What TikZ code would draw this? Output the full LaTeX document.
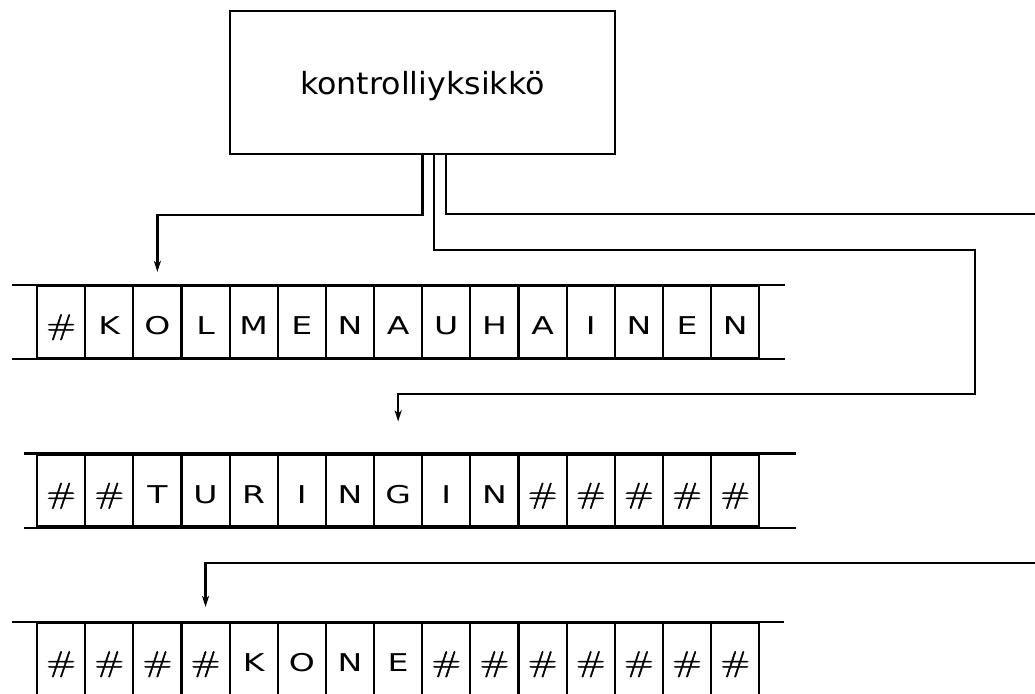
\documentclass[tikz,border=0pt]{standalone}
\usepackage{fontspec}
\setmainfont{DejaVu Sans}
\newfontfamily\tapefont[FakeStretch=1.35]{DejaVu Sans}
\newfontfamily\hashfont[FakeStretch=1.3,FakeBold=1.6]{Latin Modern Roman}
\newfontfamily\boxfont[FakeStretch=1.04]{DejaVu Sans}
\newcommand{\hs}{{\hashfont\fontsize{29}{32}\selectfont\#}}
\usetikzlibrary{arrows.meta}
\begin{document}
\begin{tikzpicture}[x=1pt,y=-1pt,
  ln/.style={line width=2.2pt, line join=miter},
  cell/.style={ln, draw, minimum width=48.15pt, minimum height=72pt, inner sep=0pt,
    text height=25pt, text depth=0pt, font=\tapefont\fontsize{24.5}{28}\selectfont},
  ctrl/.style={ln, draw, minimum width=385pt, minimum height=143pt, inner sep=0pt,
    text height=30pt, text depth=6.4pt, font=\boxfont\fontsize{30.5}{36}\selectfont},
  arr/.style={ln, -{Stealth[length=11pt,width=7pt,inset=3pt]}}]
\useasboundingbox (0,0) rectangle (1035,693);
\clip (0,0) rectangle (1035,693);

\node[ctrl] (box) at (422.5,82.5) {kontrolliyksikkö};

% tape 1
\foreach \l [count=\i] in {\hs,K,O,L,M,E,N,A,U,H,A,I,N,E,N}
  \node[cell] (t1c\i) at ({61.1+48.15*(\i-1)},322) {\l};
\draw[ln] ([xshift=-24pt]t1c1.north west) -- ([xshift=25pt]t1c15.north east);
\draw[ln] ([xshift=-24pt]t1c1.south west) -- ([xshift=25pt]t1c15.south east);

% tape 2
\foreach \l [count=\i] in {\hs,\hs,T,U,R,I,N,G,I,N,\hs,\hs,\hs,\hs,\hs}
  \node[cell] (t2c\i) at ({61.1+48.15*(\i-1)},490.5) {\l};
\draw[ln] ([xshift=-12pt]t2c1.north west) -- ([xshift=36pt]t2c15.north east);
\draw[ln] ([xshift=-12pt]t2c1.south west) -- ([xshift=36pt]t2c15.south east);

% tape 3
\foreach \l [count=\i] in {\hs,\hs,\hs,\hs,K,O,N,E,\hs,\hs,\hs,\hs,\hs,\hs,\hs}
  \node[cell] (t3c\i) at ({61.1+48.15*(\i-1)},659) {\l};
\draw[ln] ([xshift=-24pt]t3c1.north west) -- ([xshift=24pt]t3c15.north east);
\draw[ln] ([xshift=-24pt]t3c1.south west) -- ([xshift=24pt]t3c15.south east);

% connectors
\coordinate (r1) at (975,250);
\coordinate (r2) at (975,394);
\coordinate (e1) at (1040,214);
\coordinate (e2) at (1040,563);

\draw[arr] (box.south) -- ++(0,60) -| ([yshift=13pt]t1c3.north);
\draw[arr] ([xshift=11.5pt]box.south) |- (r1) -- (r2) -| ([yshift=32pt]t2c8.north);
\draw[ln] ([xshift=23.5pt]box.south) |- (e1);
\draw[arr] (e2) -| ([yshift=15pt]t3c4.north);
\end{tikzpicture}
\end{document}
